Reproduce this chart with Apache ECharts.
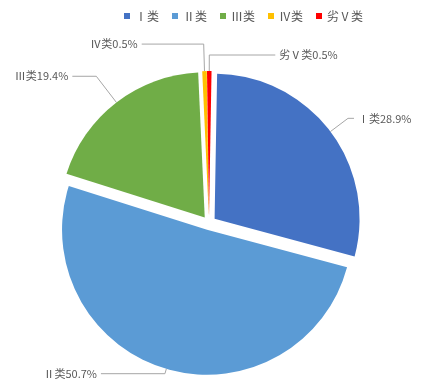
<!DOCTYPE html>
<html>
<head>
<meta charset="utf-8">
<script src="https://cdn.jsdelivr.net/npm/echarts@6/dist/echarts.min.js"></script>
<style>html,body{margin:0;padding:0;background:#fff}#c{width:424px;height:392px}</style>
</head>
<body>
<div id="c"></div>
<script>
var categories = ['Ⅰ类', 'Ⅱ类', 'Ⅲ类', 'Ⅳ类', '劣Ⅴ类'];
var values = [28.9, 50.7, 19.4, 0.5, 0.5];
var colors = ['#4472C4', '#5B9BD5', '#70AD47', '#FFC000', '#FF0000'];
// label line lengths (layout only)
var lineLen1 = [22, 5, 33, 27, 16];
var lineLen2 = [6, 64, 24, 62, 66];

var FONT = '"Noto Sans CJK SC", "Noto Sans", sans-serif';
var chart = echarts.init(document.getElementById('c'), null, {renderer: 'canvas'});
var data = categories.map(function (n, i) {
  return {
    name: n, value: values[i], selected: true,
    itemStyle: {color: colors[i]},
    labelLine: {length: lineLen1[i], length2: lineLen2[i]}
  };
});
chart.setOption({
  animation: false,
  legend: {
    data: categories,
    left: 119, top: 5,
    itemWidth: 6, itemHeight: 6, itemGap: 13,
    icon: 'rect',
    textStyle: {color: '#595959', fontSize: 12, fontFamily: FONT}
  },
  series: [{
    type: 'pie',
    center: [209, 223],
    radius: 145,
    startAngle: 89,
    clockwise: true,
    selectedMode: 'multiple',
    selectedOffset: 7,
    avoidLabelOverlap: false,
    label: {
      show: true,
      formatter: '{b}{c}%',
      color: '#595959',
      fontSize: 11,
      fontFamily: FONT,
      distanceToLabelLine: 4
    },
    labelLine: {
      show: true,
      minTurnAngle: 0,
      lineStyle: {color: '#A6A6A6', width: 1}
    },
    emphasis: {disabled: true},
    data: data
  }]
});
</script>
</body>
</html>
